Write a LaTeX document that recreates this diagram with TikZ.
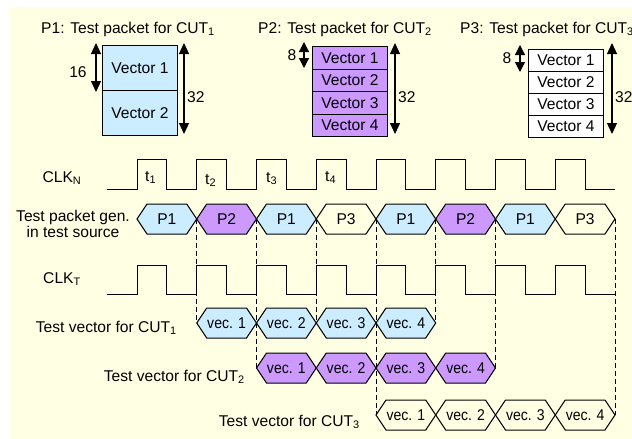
\documentclass[tikz,border=0pt]{standalone}
\usepackage{fontspec}
\usepackage{graphicx}
\setmainfont{Liberation Sans}
\usetikzlibrary{arrows.meta}
\definecolor{bgyellow}{RGB}{255,255,228}
\definecolor{pblue}{RGB}{204,236,255}
\definecolor{ppurple}{RGB}{204,153,255}
\newcommand{\vt}[1]{\scalebox{0.9}[1]{#1}}
\newcommand{\hexa}[6]{%
  \draw[hexline, fill=#5] (#2,#4) -- ({#2+10},{#4-15}) -- ({#3-10},{#4-15}) -- (#3,#4)
    -- ({#3-10},{#4+15}) -- ({#2+10},{#4+15}) -- cycle;
  \node[hextext] (#1) at ({(#2+#3)/2},#4) {#6};
}
\tikzset{
  wave/.style={line width=1pt, line join=miter},
  hexline/.style={line width=1pt, line join=miter},
  hextext/.style={inner sep=0pt},
  vbox/.style={draw, line width=1pt, minimum width=75pt, inner sep=0pt, anchor=north west},
  dim/.style={line width=1.2pt, {Triangle[length=11pt,width=10pt]}-{Triangle[length=11pt,width=10pt]}},
  dimsmall/.style={line width=1.2pt, {Triangle[length=10pt,width=10pt]}-{Triangle[length=10pt,width=10pt]}},
  dashline/.style={line width=0.9pt, dash pattern=on 5pt off 3pt},
  lbl/.style={inner sep=0pt},
}
\begin{document}
\begin{tikzpicture}[x=1pt, y=-1pt, font=\fontsize{15.6}{16}\selectfont]
\useasboundingbox (0,0) rectangle (632,439);
\fill[bgyellow] (10,7) rectangle (632,439);

% ---------- packet diagrams ----------
\node[lbl, anchor=base] (t1title) at (128,33) {P1: Test packet for CUT\textsubscript{1}};
\node[lbl, anchor=base] (t2title) at (345,33) {P2: Test packet for CUT\textsubscript{2}};
\node[lbl, anchor=base west] (t3title) at (460,33) {P3: Test packet for CUT\textsubscript{3}};

\node[vbox, fill=pblue, minimum height=45pt] (pa1) at (102,45) {Vector 1};
\node[vbox, fill=pblue, minimum height=45pt] (pa2) at (102,90) {Vector 2};

\node[vbox, fill=ppurple, minimum height=22.5pt] (pb1) at (312,46) {Vector 1};
\node[vbox, fill=ppurple, minimum height=22.5pt] (pb2) at (312,68.5) {Vector 2};
\node[vbox, fill=ppurple, minimum height=22.5pt] (pb3) at (312,91) {Vector 3};
\node[vbox, fill=ppurple, minimum height=22.5pt] (pb4) at (312,113.5) {Vector 4};

\node[vbox, fill=white, minimum height=22pt] (pc1) at (528,49) {Vector 1};
\node[vbox, fill=white, minimum height=22pt] (pc2) at (528,71) {Vector 2};
\node[vbox, fill=white, minimum height=22pt] (pc3) at (528,93) {Vector 3};
\node[vbox, fill=white, minimum height=22pt] (pc4) at (528,115) {Vector 4};

\coordinate (a16t) at (96,43);  \coordinate (a16b) at (96,92);
\coordinate (a32at) at (184,43); \coordinate (a32ab) at (184,134);
\coordinate (a8bt) at (304,42);  \coordinate (a8bb) at (304,68);
\coordinate (a32bt) at (395,43); \coordinate (a32bb) at (395,134);
\coordinate (a8ct) at (520,45);  \coordinate (a8cb) at (520,72);
\coordinate (a32ct) at (612,43); \coordinate (a32cb) at (612,134);
\draw[dim] (a16t) -- (a16b);
\draw[dim] (a32at) -- (a32ab);
\draw[dimsmall] (a8bt) -- (a8bb);
\draw[dim] (a32bt) -- (a32bb);
\draw[dimsmall] (a8ct) -- (a8cb);
\draw[dim] (a32ct) -- (a32cb);
\node[lbl] (l16) at (78,72) {16};
\node[lbl, anchor=west] (l32a) at (187,97) {32};
\node[lbl] (l8b) at (292,55) {8};
\node[lbl, anchor=west] (l32b) at (398,97) {32};
\node[lbl] (l8c) at (507,58) {8};
\node[lbl, anchor=west] (l32c) at (615,97) {32};

% ---------- row labels ----------
\node[lbl, anchor=base] (clkn) at (62,182) {CLK\textsubscript{N}};
\node[lbl, align=center] (gen) at (73,224) {Test packet gen.\\in test source};
\node[lbl, anchor=base] (clkt) at (62,283) {CLK\textsubscript{T}};
\node[lbl, anchor=base east] (cut1) at (177,332) {Test vector for CUT\textsubscript{1}};
\node[lbl, anchor=base east] (cut2) at (245,381) {Test vector for CUT\textsubscript{2}};
\node[lbl, anchor=base east] (cut3) at (360,426) {Test vector for CUT\textsubscript{3}};

% ---------- clocks ----------
\draw[wave] (107,189) foreach \k in {0,...,7}{ -- ({137+59.75*\k},189) -- ({137+59.75*\k},159)
   -- ({166.9+59.75*\k},159) -- ({166.9+59.75*\k},189) } -- (615,189);
\draw[wave] (107,294) foreach \k in {0,...,7}{ -- ({137+59.75*\k},294) -- ({137+59.75*\k},265)
   -- ({166.9+59.75*\k},265) -- ({166.9+59.75*\k},294) } -- (615,294);

\node[lbl, anchor=base west] (tt1) at (145,181) {t\textsubscript{1}};
\node[lbl, anchor=base west] (tt2) at (205,184) {t\textsubscript{2}};
\node[lbl, anchor=base west] (tt3) at (266,182) {t\textsubscript{3}};
\node[lbl, anchor=base west] (tt4) at (325,181) {t\textsubscript{4}};

% ---------- dashed guides ----------
\coordinate (x1) at (196.75,219); \coordinate (y1) at (196.75,323);
\coordinate (x2) at (256.5,219);  \coordinate (y2) at (256.5,368);
\coordinate (x3) at (316.25,219); \coordinate (y3) at (316.25,323);
\coordinate (x4) at (376,219);    \coordinate (y4) at (376,415);
\coordinate (x5) at (435.75,219); \coordinate (y5) at (435.75,323);
\coordinate (x6) at (495.5,219);  \coordinate (y6) at (495.5,368);
\coordinate (x8) at (615,219);    \coordinate (y8) at (615,415);
\draw[dashline] (x1) -- (y1);
\draw[dashline] (x2) -- (y2);
\draw[dashline] (x3) -- (y3);
\draw[dashline] (x4) -- (y4);
\draw[dashline] (x5) -- (y5);
\draw[dashline] (x6) -- (y6);
\draw[dashline] (x8) -- (y8);

% ---------- packet row ----------
\hexa{g1}{137}{196.75}{219}{pblue}{P1}
\hexa{g2}{196.75}{256.5}{219}{ppurple}{P2}
\hexa{g3}{256.5}{316.25}{219}{pblue}{P1}
\hexa{g4}{316.25}{376}{219}{none}{P3}
\hexa{g5}{376}{435.75}{219}{pblue}{P1}
\hexa{g6}{435.75}{495.5}{219}{ppurple}{P2}
\hexa{g7}{495.5}{555.25}{219}{pblue}{P1}
\hexa{g8}{555.25}{615}{219}{none}{P3}

% ---------- CUT rows ----------
\hexa{u11}{196.75}{256.5}{323}{pblue}{\vt{vec. 1}}
\hexa{u12}{256.5}{316.25}{323}{pblue}{\vt{vec. 2}}
\hexa{u13}{316.25}{376}{323}{pblue}{\vt{vec. 3}}
\hexa{u14}{376}{435.75}{323}{pblue}{\vt{vec. 4}}

\hexa{u21}{256.5}{316.25}{368}{ppurple}{\vt{vec. 1}}
\hexa{u22}{316.25}{376}{368}{ppurple}{\vt{vec. 2}}
\hexa{u23}{376}{435.75}{368}{ppurple}{\vt{vec. 3}}
\hexa{u24}{435.75}{495.5}{368}{ppurple}{\vt{vec. 4}}

\hexa{u31}{376}{435.75}{415}{none}{\vt{vec. 1}}
\hexa{u32}{435.75}{495.5}{415}{none}{\vt{vec. 2}}
\hexa{u33}{495.5}{555.25}{415}{none}{\vt{vec. 3}}
\hexa{u34}{555.25}{615}{415}{none}{\vt{vec. 4}}
\end{tikzpicture}
\end{document}
